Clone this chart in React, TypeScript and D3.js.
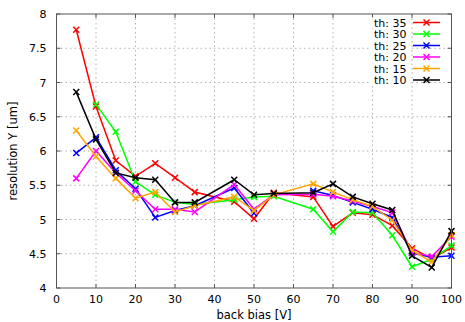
import React from "react";
import * as d3 from "d3";

const xValues = [5, 10, 15, 20, 25, 30, 35, 45, 50, 55, 65, 70, 75, 80, 85, 90, 95, 100];

const th35 = [7.77, 6.65, 5.86, 5.63, 5.82, 5.61, 5.40, 5.26, 5.01, 5.39, 5.33, 4.90, 5.10, 5.07, 4.91, 4.58, 4.43, 4.59];
const th30 = [null, 6.68, 6.28, 5.55, 5.36, 5.25, 5.22, 5.29, 5.33, 5.34, 5.15, 4.82, 5.11, 5.10, 4.77, 4.31, 4.42, 4.62];
const th25 = [5.97, 6.20, 5.72, 5.45, 5.03, 5.13, 5.20, 5.46, 5.09, null, 5.42, 5.35, 5.25, 5.15, 5.03, 4.51, 4.45, 4.47];
const th20 = [5.60, 6.00, 5.68, 5.42, 5.15, 5.15, 5.11, 5.51, 5.15, 5.36, 5.37, 5.34, 5.27, 5.19, 5.10, 4.52, 4.46, 4.75];
const th15 = [6.30, 5.92, 5.60, 5.31, 5.40, 5.11, 5.20, 5.33, 5.13, 5.36, 5.52, 5.40, 5.29, 5.19, 4.99, 4.55, 4.38, 4.77];
const th10 = [6.86, 6.17, 5.68, 5.61, 5.58, 5.25, 5.25, 5.58, 5.36, 5.38, 5.39, 5.52, 5.33, 5.23, 5.14, 4.47, 4.30, 4.83];

const seriesLabels = ["th: 35", "th: 30", "th: 25", "th: 20", "th: 15", "th: 10"];
const seriesColors = ["#ff0000", "#00ff00", "#0000ff", "#ff00ff", "#ffa500", "#000000"];
const seriesValues = [th35, th30, th25, th20, th15, th10];

const xTicks = [0, 10, 20, 30, 40, 50, 60, 70, 80, 90, 100];
const yTicks = [4, 4.5, 5, 5.5, 6, 6.5, 7, 7.5, 8];

const W = 465;
const H = 322;
const L = 56.5;
const R = 451.5;
const T = 14;
const B = 288;

export default function App() {
  const x = d3.scaleLinear().domain([0, 100]).range([L, R]);
  const y = d3.scaleLinear().domain([4, 8]).range([B, T]);
  const font = "'DejaVu Sans', sans-serif";

  const line = d3
    .line<[number, number | null]>()
    .defined((d) => d[1] !== null)
    .x((d) => x(d[0]))
    .y((d) => y(d[1] as number));

  const cross = (cx: number, cy: number, s: number) =>
    `M${cx - s},${cy - s}L${cx + s},${cy + s}M${cx - s},${cy + s}L${cx + s},${cy - s}`;

  const legendRows = seriesLabels.map((lab, i) => ({ lab, i, ly: 22.5 + i * 11.5 }));

  return (
    <svg width={W} height={H} style={{ position: "absolute", left: 0, top: 0, background: "#fff" }}>
      {/* grid */}
      {xTicks.slice(1, -1).map((t) => (
        <line key={"gx" + t} x1={x(t)} x2={x(t)} y1={T} y2={B} stroke="#b0b0b0" strokeWidth={1} strokeDasharray="1.5,3" />
      ))}
      {yTicks.slice(1, -1).map((t) => (
        <line key={"gy" + t} x1={L} x2={R} y1={y(t)} y2={y(t)} stroke="#b0b0b0" strokeWidth={1} strokeDasharray="1.5,3" />
      ))}
      {/* ticks */}
      {xTicks.map((t) => (
        <g key={"tx" + t}>
          <line x1={x(t)} x2={x(t)} y1={B} y2={B - 4} stroke="#555" />
          <line x1={x(t)} x2={x(t)} y1={T} y2={T + 4} stroke="#555" />
          <text x={x(t)} y={303} textAnchor="middle" fontFamily={font} fontSize={11} fill="#000">
            {t}
          </text>
        </g>
      ))}
      {yTicks.map((t) => (
        <g key={"ty" + t}>
          <line x1={L} x2={L + 4} y1={y(t)} y2={y(t)} stroke="#555" />
          <line x1={R} x2={R - 4} y1={y(t)} y2={y(t)} stroke="#555" />
          <text x={46.5} y={y(t) + 4} textAnchor="end" fontFamily={font} fontSize={11} fill="#000">
            {t}
          </text>
        </g>
      ))}
      {/* data */}
      {seriesValues.map((vals, i) => {
        const pts: [number, number | null][] = xValues.map((xv, j) => [xv, vals[j]]);
        return (
          <g key={"s" + i}>
            <path d={line(pts) || ""} fill="none" stroke={seriesColors[i]} strokeWidth={1.5} />
            {pts
              .filter((p) => p[1] !== null)
              .map((p, j) => (
                <path key={j} d={cross(x(p[0]), y(p[1] as number), 3)} stroke={seriesColors[i]} strokeWidth={1.5} fill="none" />
              ))}
          </g>
        );
      })}
      {/* legend */}
      {legendRows.map(({ lab, i, ly }) => (
        <g key={"l" + i}>
          <rect x={371} y={ly - 5} width={39} height={11} fill="#fff" />
          <text x={406.5} y={ly + 4} textAnchor="end" fontFamily={font} fontSize={11} fill="#000">
            {lab}
          </text>
          <line x1={413} x2={440} y1={ly} y2={ly} stroke={seriesColors[i]} strokeWidth={1.5} />
          <path d={cross(426.5, ly, 3)} stroke={seriesColors[i]} strokeWidth={1.5} fill="none" />
        </g>
      ))}
      {/* border */}
      <rect x={L} y={T} width={R - L} height={B - T} fill="none" stroke="#555" strokeWidth={1} />
      {/* axis labels */}
      <text x={(L + R) / 2} y={319} textAnchor="middle" fontFamily={font} fontSize={11.5} fill="#000">
        back bias [V]
      </text>
      <text
        transform={`translate(17,${(T + B) / 2}) rotate(-90)`}
        textAnchor="middle"
        fontFamily={font}
        fontSize={11.5}
        fill="#000"
      >
        resolution Y [um]
      </text>
    </svg>
  );
}
